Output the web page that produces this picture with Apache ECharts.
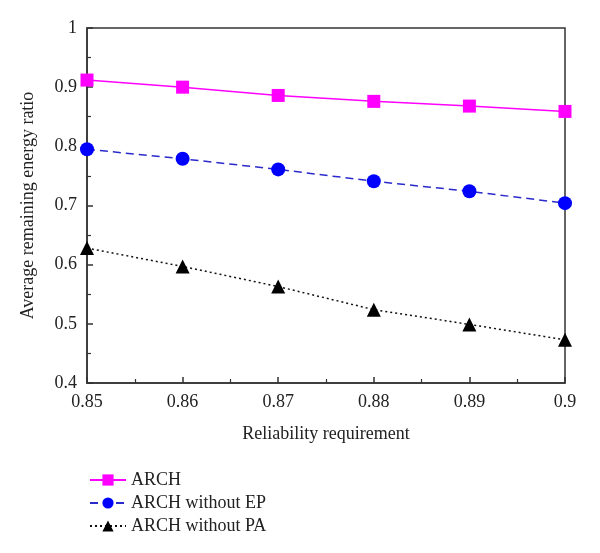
<!DOCTYPE html>
<html>
<head>
<meta charset="utf-8">
<script src="https://cdn.jsdelivr.net/npm/echarts@6/dist/echarts.min.js"></script>
<style>html,body{margin:0;padding:0;background:#fff}#c{width:600px;height:553px}</style>
</head>
<body>
<div id="c"></div>
<script>
var xValues = [0.85, 0.86, 0.87, 0.88, 0.89, 0.90];
var archValues = [0.912, 0.900, 0.886, 0.876, 0.868, 0.859];
var archNoEPValues = [0.795, 0.779, 0.761, 0.741, 0.724, 0.704];
var archNoPAValues = [0.628, 0.597, 0.563, 0.524, 0.499, 0.473];
var seriesNames = ['ARCH', 'ARCH without EP', 'ARCH without PA'];

function pairs(vals) { return xValues.map(function (x, i) { return [x, vals[i]]; }); }

var font = 'Liberation Serif';
var axisColor = '#333';
var chart = echarts.init(document.getElementById('c'));
chart.setOption({
  animation: false,
  backgroundColor: '#fff',
  textStyle: { fontFamily: font },
  grid: { left: 87, right: 35, top: 28, bottom: 170, show: true, borderColor: axisColor, borderWidth: 1.5, backgroundColor: 'transparent' },
  xAxis: {
    type: 'value', min: 0.85, max: 0.9, interval: 0.01,
    name: 'Reliability requirement', nameLocation: 'middle', nameGap: 42,
    nameTextStyle: { fontFamily: font, fontSize: 18, color: '#222' },
    axisLine: { show: true, lineStyle: { color: axisColor, width: 1.5 } },
    axisTick: { show: true, inside: true, length: 6, lineStyle: { color: axisColor, width: 1.5 } },
    minorTick: { show: true, splitNumber: 2, length: 4, lineStyle: { color: axisColor, width: 1.2 } },
    splitLine: { show: false },
    axisLabel: { fontFamily: font, fontSize: 18, color: '#222', margin: 10 }
  },
  yAxis: {
    type: 'value', min: 0.4, max: 1, interval: 0.1,
    name: 'Average remaining energy ratio', nameLocation: 'middle', nameGap: 50,
    nameTextStyle: { fontFamily: font, fontSize: 18, color: '#222' },
    axisLine: { show: true, lineStyle: { color: axisColor, width: 1.5 } },
    axisTick: { show: true, inside: true, length: 6, lineStyle: { color: axisColor, width: 1.5 } },
    minorTick: { show: true, splitNumber: 2, length: 4, lineStyle: { color: axisColor, width: 1.2 } },
    splitLine: { show: false },
    axisLabel: { fontFamily: font, fontSize: 18, color: '#222', margin: 10 }
  },
  legend: {
    orient: 'vertical', left: 84, top: 466, itemGap: 5,
    itemWidth: 36, itemHeight: 14,
    textStyle: { fontFamily: font, fontSize: 18, color: '#222' },
    data: seriesNames
  },
  series: [
    {
      name: seriesNames[0], type: 'line', data: pairs(archValues),
      symbol: 'rect', symbolSize: 13,
      lineStyle: { color: '#ff00ff', width: 1.5, type: 'solid' },
      itemStyle: { color: '#ff00ff' }, z: 3
    },
    {
      name: seriesNames[1], type: 'line', data: pairs(archNoEPValues),
      symbol: 'circle', symbolSize: 14,
      lineStyle: { color: '#2a2acc', width: 1.5, type: [8, 5] },
      itemStyle: { color: '#0000ff' }, z: 3
    },
    {
      name: seriesNames[2], type: 'line', data: pairs(archNoPAValues),
      symbol: 'triangle', symbolSize: 14,
      lineStyle: { color: '#111', width: 1.5, type: [2, 3] },
      itemStyle: { color: '#000' }, z: 3
    }
  ]
});
</script>
</body>
</html>
